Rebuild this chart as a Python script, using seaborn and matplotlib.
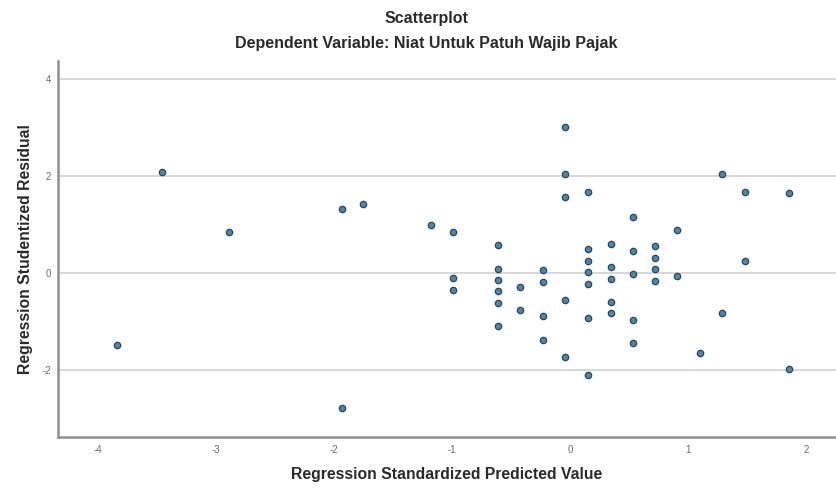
import numpy as np
import pandas as pd
import matplotlib
matplotlib.use("Agg")
import matplotlib.pyplot as plt
import seaborn as sns

# ===============================================
# DATOS
# ===============================================

pred_std = [
    -3.455, -2.887, -3.836, -1.935, -1.751, -1.18, -0.989, -0.989, -0.989, -1.935,
    -0.607, -0.607, -0.607, -0.607, -0.607, -0.607,
    -0.421, -0.421,
    -0.226, -0.226, -0.226, -0.226,
    -0.04, -0.04, -0.04, -0.04, -0.04,
    0.153, 0.153, 0.153, 0.153, 0.153, 0.153, 0.153,
    0.345, 0.345, 0.345, 0.345, 0.345,
    0.531, 0.531, 0.531, 0.531, 0.531,
    0.723, 0.723, 0.723, 0.723,
    0.909, 0.909,
    1.10, 1.29, 1.29, 1.48, 1.48, 1.858, 1.858,
]
resid_stud = [
    2.09, 0.845, -1.49, 1.33, 1.42, 0.99, 0.845, -0.10, -0.34, -2.79,
    0.57, 0.09, -0.14, -0.37, -0.61, -1.09,
    -0.28, -0.76,
    0.06, -0.18, -0.89, -1.37,
    3.0, 2.04, 1.57, -0.56, -1.73,
    1.67, 0.49, 0.25, 0.02, -0.22, -0.93, -2.11,
    0.59, 0.12, -0.12, -0.59, -0.83,
    1.16, 0.45, -0.02, -0.97, -1.44,
    0.56, 0.32, 0.08, -0.16,
    0.88, -0.06,
    -1.64, 2.04, -0.82, 1.67, 0.24, 1.64, -1.98,
]

x_ticks = [-4, -3, -2, -1, 0, 1, 2]
y_ticks = [-2, 0, 2, 4]

df = pd.DataFrame({"pred": pred_std, "resid": resid_stud})

# ===============================================
# GRÁFICO
# ===============================================

sns.set_style("white")
plt.rcParams["font.family"] = ["Liberation Sans", "DejaVu Sans"]

fig = plt.figure(figsize=(8.37, 4.9), dpi=100)
ax = fig.add_axes([0.0693, 0.108, 0.929, 0.7675])

sns.scatterplot(
    data=df, x="pred", y="resid", ax=ax,
    s=21, color="#4d87ab", edgecolor="#2b4656", linewidth=0.9, zorder=3
)

ax.set_xlim(-4.34, 2.25)
ax.set_ylim(-3.38, 4.37)
ax.set_xticks(x_ticks)
ax.set_yticks(y_ticks)
ax.set_xticklabels([str(v) for v in x_ticks])
ax.set_yticklabels([str(v) for v in y_ticks])

ax.yaxis.grid(True, color="#d4d4d4", linewidth=1.3, zorder=0)
ax.xaxis.grid(False)
for side in ["top", "right"]:
    ax.spines[side].set_visible(False)
for side in ["left", "bottom"]:
    ax.spines[side].set_color("#8f8f8f")
    ax.spines[side].set_linewidth(1.8)

ax.tick_params(axis="x", labelsize=7, colors="#6a6a6a", length=0, pad=6)
ax.tick_params(axis="y", labelsize=7, colors="#6a6a6a", length=0, pad=5)

ax.set_xlabel("Regression Standardized Predicted Value", fontsize=11.3,
              fontweight="bold", color="#2a2a2a", labelpad=8)
ax.set_ylabel("Regression Studentized Residual", fontsize=11.3,
              fontweight="bold", color="#2a2a2a", labelpad=7)

fig.text(0.509, 0.963, "Scatterplot", ha="center", va="center",
         fontsize=11.5, fontweight="bold", color="#2a2a2a")
fig.text(0.509, 0.911, "Dependent Variable: Niat Untuk Patuh Wajib Pajak",
         ha="center", va="center", fontsize=11.5, fontweight="bold", color="#2a2a2a")

fig.savefig("out.png", dpi=100)
